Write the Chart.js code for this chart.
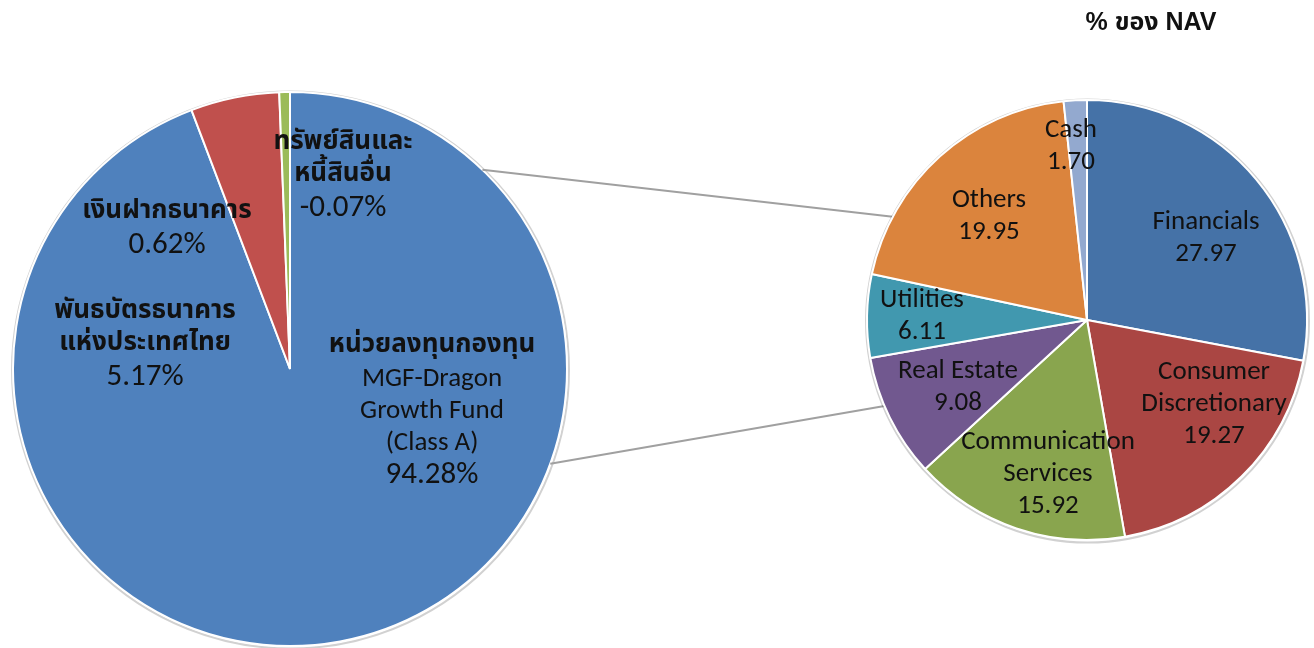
<!DOCTYPE html>
<html><head><meta charset="utf-8">
<script src="https://cdn.jsdelivr.net/npm/chart.js@4/dist/chart.umd.min.js"></script>
<style>
html,body{margin:0;padding:0;background:#fff;}
#wrap{position:relative;width:1314px;height:648px;overflow:hidden;background:#fff;}
#wrap canvas{position:absolute;left:0;top:0;}
#title{position:absolute;left:1151px;top:22px;transform:translate(-50%,-50%);white-space:nowrap;font:bold 25px "Liberation Sans",Arial,"Noto Sans Thai",sans-serif;color:#111;}
</style></head><body>
<div id="wrap">
<canvas id="leftPie" width="1314" height="648"></canvas>
<canvas id="rightPie" width="1314" height="648"></canvas>
<div id="title"></div>
</div>
<script>
// ---- data ----
const titleText = '% ของ NAV';
const fundCategories = ['หน่วยลงทุนกองทุน\nMGF-Dragon\nGrowth Fund\n(Class A)', 'พันธบัตรธนาคาร\nแห่งประเทศไทย', 'เงินฝากธนาคาร', 'ทรัพย์สินและ\nหนี้สินอื่น'];
const fundValues = [94.28, 5.17, 0.62, -0.07];
const fundColors = ['#4F81BD', '#C0504D', '#9BBB59', '#8064A2'];
const sectorCategories = ['Financials', 'Consumer\nDiscretionary', 'Communication\nServices', 'Real Estate', 'Utilities', 'Others', 'Cash'];
const sectorValues = [27.97, 19.27, 15.92, 9.08, 6.11, 19.95, 1.70];
const sectorColors = ['#4572A7', '#AA4643', '#89A54E', '#71588F', '#4198AF', '#DB843D', '#93A9CF'];

// ---- layout (label offsets from pie centre, px) ----
const fundLabelOffsets = [[142, 42], [-145, -24], [-123, -140], [53, -193]];
const sectorLabelOffsets = [[119, -82], [127, 84], [-39, 154], [-129, 67], [-165, -4], [-98, -104], [-16, -174]];
const connectorAngles = {left: [44, 110], right: [298, 247]}; // degrees clockwise from top

document.getElementById('title').textContent = titleText;

const thaiRe = /[\u0E00-\u0E7F]/;
const THAI_FONT = '"Noto Sans Thai", "Noto Sans", "DejaVu Sans", sans-serif';
const LATIN_FONT = 'Carlito, Lato, "Open Sans", sans-serif';

const sliceLabels = {
  id: 'sliceLabels',
  afterDatasetsDraw(chart, args, opts) {
    const ctx = chart.ctx;
    const meta = chart.getDatasetMeta(0);
    const arc0 = meta.data[0];
    const cx = arc0.x, cy = arc0.y;
    ctx.save();
    ctx.textAlign = 'center';
    ctx.textBaseline = 'middle';
    ctx.fillStyle = '#111';
    opts.categories.forEach((cat, i) => {
      const lines = cat.split('\n').map(t => ({t, kind: thaiRe.test(t) ? 'thai' : 'latin'}));
      lines.push({t: opts.format(opts.values[i]), kind: 'value'});
      const lh = opts.lineHeight;
      const [ox, oy] = opts.offsets[i];
      const startY = cy + oy - (lines.length - 1) * lh / 2;
      lines.forEach((ln, k) => {
        if (ln.kind === 'thai') ctx.font = opts.thaiFont;
        else if (ln.kind === 'value') ctx.font = opts.valueFont;
        else ctx.font = opts.latinFont;
        ctx.fillText(ln.t, cx + ox, startY + k * lh);
      });
    });
    ctx.restore();
  }
};

const rimShadow = {
  id: 'rimShadow',
  beforeDatasetsDraw(chart) {
    const a = chart.getDatasetMeta(0).data[0];
    if (!a) return;
    const ctx = chart.ctx;
    ctx.save();
    ctx.beginPath();
    ctx.arc(a.x + 0.5, a.y + 1, a.outerRadius + 1.5, 0, Math.PI * 2);
    ctx.strokeStyle = 'rgba(0,0,0,0.18)';
    ctx.lineWidth = 2;
    ctx.stroke();
    ctx.restore();
  }
};

let leftChart;
const connectors = {
  id: 'connectors',
  beforeDatasetsDraw(chart) {
    if (!leftChart) return;
    const L = leftChart.getDatasetMeta(0).data[0];
    const R = chart.getDatasetMeta(0).data[0];
    const ctx = chart.ctx;
    const pt = (arc, deg) => {
      const r = arc.outerRadius, t = deg * Math.PI / 180;
      return [arc.x + r * Math.sin(t), arc.y - r * Math.cos(t)];
    };
    ctx.save();
    ctx.strokeStyle = '#A0A0A0';
    ctx.lineWidth = 2;
    for (let i = 0; i < 2; i++) {
      const p = pt(L, connectorAngles.left[i]);
      const q = pt(R, connectorAngles.right[i]);
      ctx.beginPath();
      ctx.moveTo(p[0], p[1]);
      ctx.lineTo(q[0], q[1]);
      ctx.stroke();
    }
    ctx.restore();
  }
};

const commonOpts = {
  responsive: false,
  animation: false,
  devicePixelRatio: 1,
  rotation: 0,
};

leftChart = new Chart(document.getElementById('leftPie'), {
  type: 'pie',
  data: {
    labels: fundCategories,
    datasets: [{
      data: fundValues.map(v => Math.max(v, 0)),
      backgroundColor: fundColors,
      borderColor: '#FFFFFF',
      borderWidth: 2
    }]
  },
  options: Object.assign({}, commonOpts, {
    layout: {padding: {left: 12, top: 91, right: 746, bottom: 1}},
    plugins: {
      legend: {display: false},
      tooltip: {enabled: false},
      sliceLabels: {
        categories: fundCategories, values: fundValues, offsets: fundLabelOffsets,
        lineHeight: 32,
        thaiFont: 'bold 26px ' + THAI_FONT,
        latinFont: '27px ' + LATIN_FONT,
        valueFont: '31px ' + LATIN_FONT,
        format: v => v.toFixed(2) + '%'
      }
    }
  }),
  plugins: [rimShadow, sliceLabels]
});

new Chart(document.getElementById('rightPie'), {
  type: 'pie',
  data: {
    labels: sectorCategories,
    datasets: [{
      data: sectorValues,
      backgroundColor: sectorColors,
      borderColor: '#FFFFFF',
      borderWidth: 2
    }]
  },
  options: Object.assign({}, commonOpts, {
    layout: {padding: {left: 866, top: 99, right: 6, bottom: 107}},
    plugins: {
      legend: {display: false},
      tooltip: {enabled: false},
      sliceLabels: {
        categories: sectorCategories, values: sectorValues, offsets: sectorLabelOffsets,
        lineHeight: 32,
        thaiFont: 'bold 26px ' + THAI_FONT,
        latinFont: '27px ' + LATIN_FONT,
        valueFont: '27px ' + LATIN_FONT,
        format: v => v.toFixed(2)
      }
    }
  }),
  plugins: [connectors, rimShadow, sliceLabels]
});
</script>
</body></html>
